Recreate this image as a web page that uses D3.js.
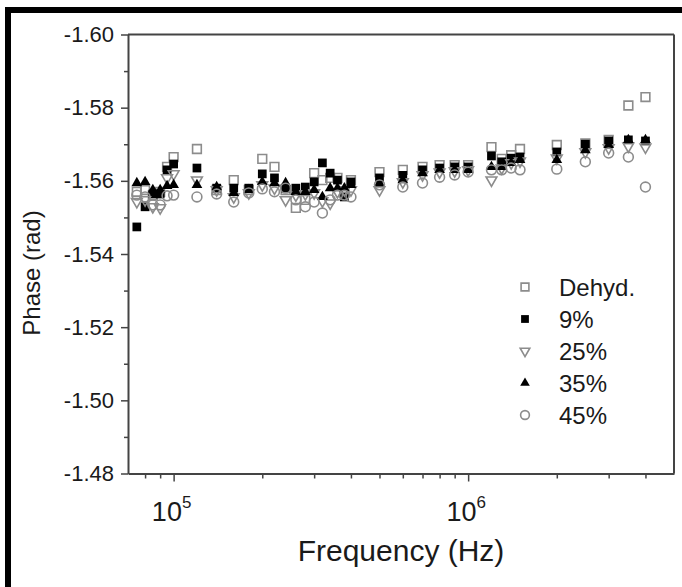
<!DOCTYPE html>
<html>
<head>
<meta charset="utf-8">
<script src="https://cdn.jsdelivr.net/npm/d3@7"></script>
<style>
  html, body { margin: 0; padding: 0; background: #fff; }
  svg { display: block; font-family: "Liberation Sans", Arial, sans-serif; }
</style>
</head>
<body>
<svg id="chart" width="682" height="587"></svg>
<script>
// frequencies (Hz) shared by all series
const freqs = [7.5e4, 8e4, 8.5e4, 9e4, 9.5e4, 1e5, 1.2e5, 1.4e5, 1.6e5, 1.8e5,
  2e5, 2.2e5, 2.4e5, 2.6e5, 2.8e5, 3e5, 3.2e5, 3.4e5, 3.6e5, 3.8e5, 4e5,
  5e5, 6e5, 7e5, 8e5, 9e5, 1e6, 1.2e6, 1.3e6, 1.4e6, 1.5e6,
  2e6, 2.5e6, 3e6, 3.5e6, 4e6];

const dehyd = [-1.5570, -1.5575, -1.5560, -1.5570, -1.5638, -1.5665, -1.5687, -1.5575, -1.5602, -1.5575,
  -1.5660, -1.5638, -1.5575, -1.5526, -1.5548, -1.5621, -1.5602, -1.5608, -1.5608, -1.5567, -1.5602,
  -1.5624, -1.5630, -1.5638, -1.5643, -1.5643, -1.5643, -1.5692, -1.5660, -1.5670, -1.5687,
  -1.5698, -1.5702, -1.5712, -1.5806, -1.5829];
const pct9 = [-1.5474, -1.5529, -1.5564, -1.5564, -1.5630, -1.5646, -1.5635, -1.5580, -1.5580, -1.5580,
  -1.5619, -1.5608, -1.5580, -1.5580, -1.5583, -1.5597, -1.5649, -1.5621, -1.5602, -1.5556, -1.5597,
  -1.5608, -1.5615, -1.5630, -1.5635, -1.5638, -1.5638, -1.5668, -1.5652, -1.5662, -1.5665,
  -1.5679, -1.5700, -1.5709, -1.5712, -1.5709];
const pct25 = [-1.5543, -1.5548, -1.5529, -1.5526, -1.5608, -1.5619, -1.5602, -1.5575, -1.5556, -1.5567,
  -1.5589, -1.5580, -1.5548, -1.5561, -1.5564, -1.5567, -1.5545, -1.5539, -1.5570, -1.5575, -1.5575,
  -1.5575, -1.5597, -1.5616, -1.5624, -1.5627, -1.5630, -1.5602, -1.5635, -1.5649, -1.5654,
  -1.5662, -1.5679, -1.5690, -1.5695, -1.5692];
const pct35 = [-1.5594, -1.5597, -1.5575, -1.5575, -1.5586, -1.5589, -1.5589, -1.5583, -1.5567, -1.5575,
  -1.5597, -1.5594, -1.5594, -1.5570, -1.5570, -1.5575, -1.5556, -1.5580, -1.5580, -1.5580, -1.5589,
  -1.5594, -1.5602, -1.5621, -1.5630, -1.5630, -1.5630, -1.5638, -1.5638, -1.5649, -1.5657,
  -1.5657, -1.5684, -1.5698, -1.5712, -1.5712];
const pct45 = [-1.5561, -1.5556, -1.5534, -1.5534, -1.5559, -1.5561, -1.5556, -1.5564, -1.5542, -1.5567,
  -1.5578, -1.5570, -1.5580, -1.5548, -1.5529, -1.5542, -1.5512, -1.5548, -1.5561, -1.5561, -1.5556,
  -1.5589, -1.5583, -1.5594, -1.5610, -1.5616, -1.5624, -1.5630, -1.5630, -1.5635, -1.5630,
  -1.5632, -1.5652, -1.5676, -1.5665, -1.5583];

const seriesNames = ["Dehyd.", "9%", "25%", "35%", "45%"];
const seriesValues = [dehyd, pct9, pct25, pct35, pct45];

const yTicks = [-1.60, -1.58, -1.56, -1.54, -1.52, -1.50, -1.48];
const yTickLabels = ["-1.60", "-1.58", "-1.56", "-1.54", "-1.52", "-1.50", "-1.48"];
const yMinorTicks = [-1.59, -1.57, -1.55, -1.53, -1.51, -1.49];
const xTicks = [1e5, 1e6];
const xTickExponents = ["5", "6"];
const xMinorTicks = [8e4, 9e4, 2e5, 3e5, 4e5, 5e5, 6e5, 7e5, 8e5, 9e5, 2e6, 3e6, 4e6];

const styles = [
  { shape: d3.symbolSquare, size: 76, fill: "none", stroke: "#8c8c8c", rot: 0 },
  { shape: d3.symbolSquare, size: 76, fill: "#000", stroke: "none", rot: 0 },
  { shape: d3.symbolTriangle, size: 50, fill: "none", stroke: "#8c8c8c", rot: 180 },
  { shape: d3.symbolTriangle, size: 50, fill: "#000", stroke: "none", rot: 0 },
  { shape: d3.symbolCircle, size: 76, fill: "none", stroke: "#8c8c8c", rot: 0 }
];

const svg = d3.select("#chart");
const plotLeft = 128, plotRight = 674, plotTop = 34.5, plotBottom = 473.5;

// outer black frame (cropped on right and bottom)
svg.append("rect")
  .attr("x", 8).attr("y", 10)
  .attr("width", 700).attr("height", 620)
  .attr("fill", "none").attr("stroke", "#000").attr("stroke-width", 6);

const x = d3.scaleLog().domain([7e4, 5e6]).range([plotLeft, plotRight]);
const y = d3.scaleLinear().domain([-1.60, -1.48]).range([plotTop, plotBottom]);

const axisColor = "#444";

// y axis
const yAxis = svg.append("g")
  .attr("transform", `translate(${plotLeft},0)`)
  .call(d3.axisLeft(y).tickValues(yTicks).tickSize(7).tickSizeOuter(0)
    .tickFormat((d, i) => yTickLabels[i]));
yAxis.select(".domain").attr("stroke", axisColor).attr("stroke-width", 2);
yAxis.selectAll(".tick line").attr("stroke", axisColor).attr("stroke-width", 1.5);
yAxis.selectAll(".tick text")
  .attr("x", -14).attr("fill", "#1a1a1a")
  .attr("font-size", 22).attr("font-family", "Liberation Sans, Arial, sans-serif");

const yMinor = svg.append("g")
  .attr("transform", `translate(${plotLeft},0)`)
  .call(d3.axisLeft(y).tickValues(yMinorTicks).tickSize(4).tickSizeOuter(0).tickFormat(""));
yMinor.select(".domain").remove();
yMinor.selectAll(".tick line").attr("stroke", axisColor).attr("stroke-width", 1.5);

// x axis
const xAxis = svg.append("g")
  .attr("transform", `translate(0,${plotBottom})`)
  .call(d3.axisBottom(x).tickValues(xTicks).tickSize(8).tickSizeOuter(0).tickFormat(""));
xAxis.select(".domain").attr("stroke", axisColor).attr("stroke-width", 2);
xAxis.selectAll(".tick line").attr("stroke", axisColor).attr("stroke-width", 1.5);

const xMinor = svg.append("g")
  .attr("transform", `translate(0,${plotBottom})`)
  .call(d3.axisBottom(x).tickValues(xMinorTicks).tickSize(5).tickSizeOuter(0).tickFormat(""));
xMinor.select(".domain").remove();
xMinor.selectAll(".tick line").attr("stroke", axisColor).attr("stroke-width", 1.5);

// x tick labels 10^n
xTicks.forEach((t, i) => {
  const lbl = svg.append("text")
    .attr("x", x(t) - 2).attr("y", plotBottom + 47)
    .attr("text-anchor", "middle").attr("fill", "#1a1a1a").attr("font-size", 27);
  lbl.append("tspan").text("10");
  lbl.append("tspan").attr("dy", -13).attr("font-size", 17).text(xTickExponents[i]);
});

// top and right frame lines
svg.append("line").attr("x1", plotLeft).attr("x2", plotRight).attr("y1", plotTop).attr("y2", plotTop)
  .attr("stroke", axisColor).attr("stroke-width", 2);
svg.append("line").attr("x1", plotRight).attr("x2", plotRight).attr("y1", plotTop).attr("y2", plotBottom)
  .attr("stroke", axisColor).attr("stroke-width", 2);

// axis titles
svg.append("text")
  .attr("x", 401).attr("y", 561)
  .attr("text-anchor", "middle").attr("fill", "#1a1a1a").attr("font-size", 30)
  .text("Frequency (Hz)");
svg.append("text")
  .attr("transform", "translate(40,273) rotate(-90)")
  .attr("text-anchor", "middle").attr("fill", "#1a1a1a").attr("font-size", 24)
  .text("Phase (rad)");

// data points
seriesValues.forEach((vals, s) => {
  const st = styles[s];
  const sym = d3.symbol().type(st.shape).size(st.size);
  svg.append("g").selectAll("path")
    .data(vals.map((v, i) => ({ f: freqs[i], v: v })))
    .enter()
    .append("path")
    .attr("d", sym)
    .attr("transform", (d) => `translate(${x(d.f)},${y(d.v)}) rotate(${st.rot})`)
    .attr("fill", st.fill)
    .attr("stroke", st.stroke)
    .attr("stroke-width", 1.6);
});

// legend
const legend = svg.append("g").attr("transform", "translate(525,287)");
seriesNames.forEach((name, i) => {
  const st = styles[i];
  const row = legend.append("g").attr("transform", `translate(0,${i * 32})`);
  row.append("path")
    .attr("d", d3.symbol().type(st.shape).size(st.size * 0.8))
    .attr("transform", `rotate(${st.rot})`)
    .attr("fill", st.fill).attr("stroke", st.stroke).attr("stroke-width", 1.6);
  row.append("text")
    .attr("x", 34).attr("y", 9)
    .attr("fill", "#1a1a1a").attr("font-size", 24)
    .text(name);
});
</script>
</body>
</html>
